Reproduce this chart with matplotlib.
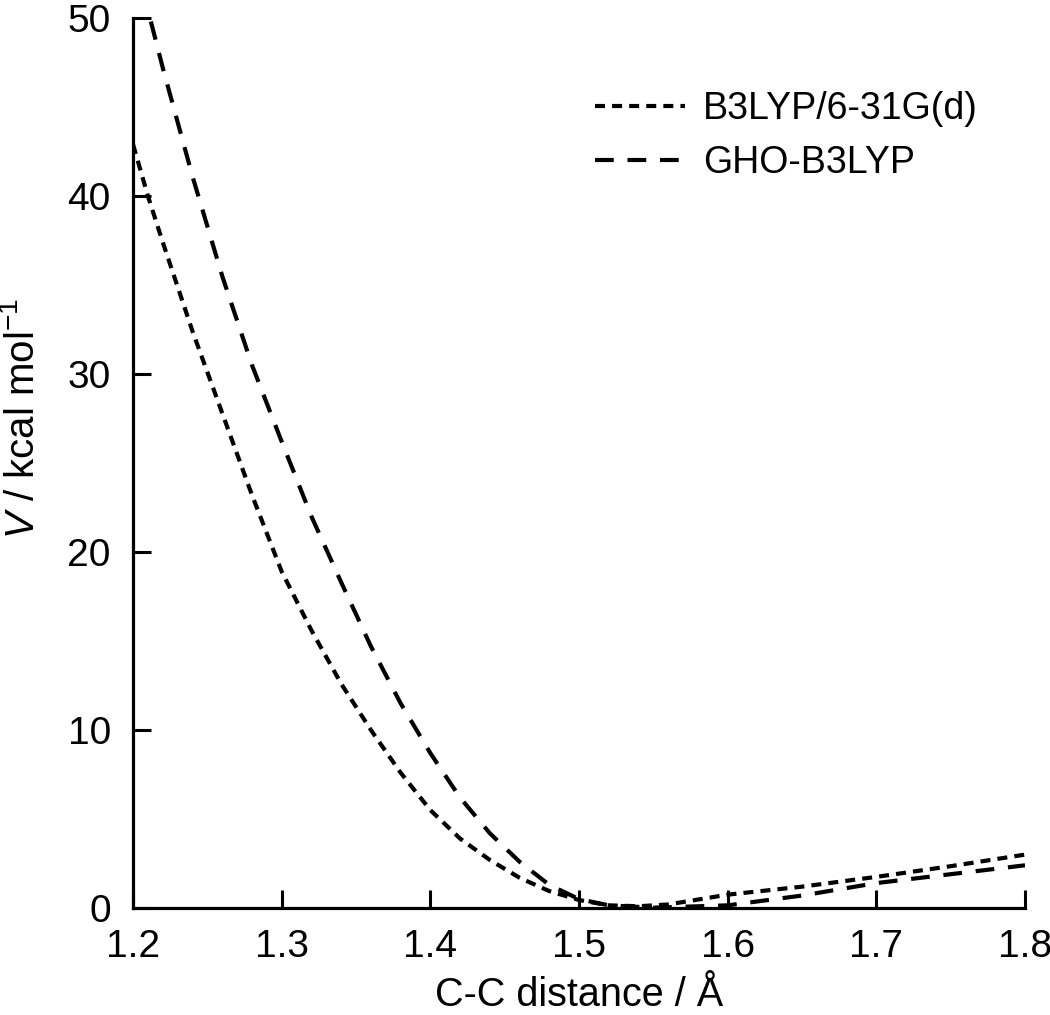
import matplotlib
matplotlib.use("Agg")
import matplotlib.pyplot as plt

plt.rcParams["font.family"] = ["Liberation Sans", "DejaVu Sans"]
plt.rcParams["mathtext.fontset"] = "custom"
plt.rcParams["mathtext.rm"] = "Liberation Sans"
plt.rcParams["mathtext.it"] = "Liberation Sans:italic"

# B3LYP/6-31G(d) curve
b3lyp_x = [1.200, 1.210, 1.220, 1.240, 1.260, 1.280, 1.300, 1.320, 1.340, 1.360,
           1.380, 1.400, 1.420, 1.440, 1.460, 1.480, 1.500, 1.520, 1.540, 1.560,
           1.600, 1.650, 1.700, 1.750, 1.800]
b3lyp_v = [42.9, 40.0, 37.4, 32.4, 27.8, 23.2, 18.9, 15.6, 12.6, 10.0,
           7.6, 5.5, 3.9, 2.7, 1.7, 0.95, 0.45, 0.15, 0.1, 0.2,
           0.75, 1.2, 1.75, 2.35, 3.0]

# GHO-B3LYP curve
gho_x = [1.212, 1.220, 1.240, 1.260, 1.280, 1.300, 1.320, 1.340, 1.360, 1.380,
         1.400, 1.420, 1.440, 1.460, 1.480, 1.500, 1.520, 1.550, 1.600, 1.650,
         1.700, 1.750, 1.800]
gho_v = [49.8, 47.2, 41.1, 35.5, 30.5, 26.2, 22.0, 18.3, 14.7, 11.5,
         8.7, 6.2, 4.2, 2.6, 1.3, 0.5, 0.15, 0.02, 0.15, 0.7,
         1.4, 1.9, 2.4]

x_ticks = [1.2, 1.3, 1.4, 1.5, 1.6, 1.7, 1.8]
y_ticks = [0, 10, 20, 30, 40, 50]

fig = plt.figure(figsize=(10.5, 10.15), dpi=100)
ax = fig.add_axes([0.1267, 0.1054, 0.8495, 0.8769])

ax.plot(b3lyp_x, b3lyp_v, color="black", lw=3, linestyle=(0, (2.4, 1.7)),
        label="B3LYP/6-31G(d)")
ax.plot(gho_x, gho_v, color="black", lw=3, linestyle=(0, (4.5, 3.3)),
        label="GHO-B3LYP")

ax.set_xlim(1.2, 1.8)
ax.set_ylim(0, 50)
ax.set_xticks(x_ticks)
ax.set_yticks(y_ticks)
ax.set_xticklabels(["%.1f" % t for t in x_ticks])

for side in ["top", "right"]:
    ax.spines[side].set_visible(False)
for side in ["left", "bottom"]:
    ax.spines[side].set_linewidth(2.3)
ax.tick_params(direction="in", length=13, width=2.2, labelsize=28)
ax.tick_params(axis="x", pad=15)
ax.tick_params(axis="y", pad=16)

ax.set_xlabel("C-C distance / Å", fontsize=28.5, labelpad=8)
ax.set_ylabel(r"$V$ / kcal mol$^{-1}$", fontsize=29)
ax.yaxis.set_label_coords(-0.102, 0.55)

ax.legend(loc="upper left", bbox_to_anchor=(0.48, 0.956), frameon=False,
          fontsize=27, handlelength=2.4, handletextpad=0.48, labelspacing=0.48)

fig.savefig("out.png", dpi=100)
